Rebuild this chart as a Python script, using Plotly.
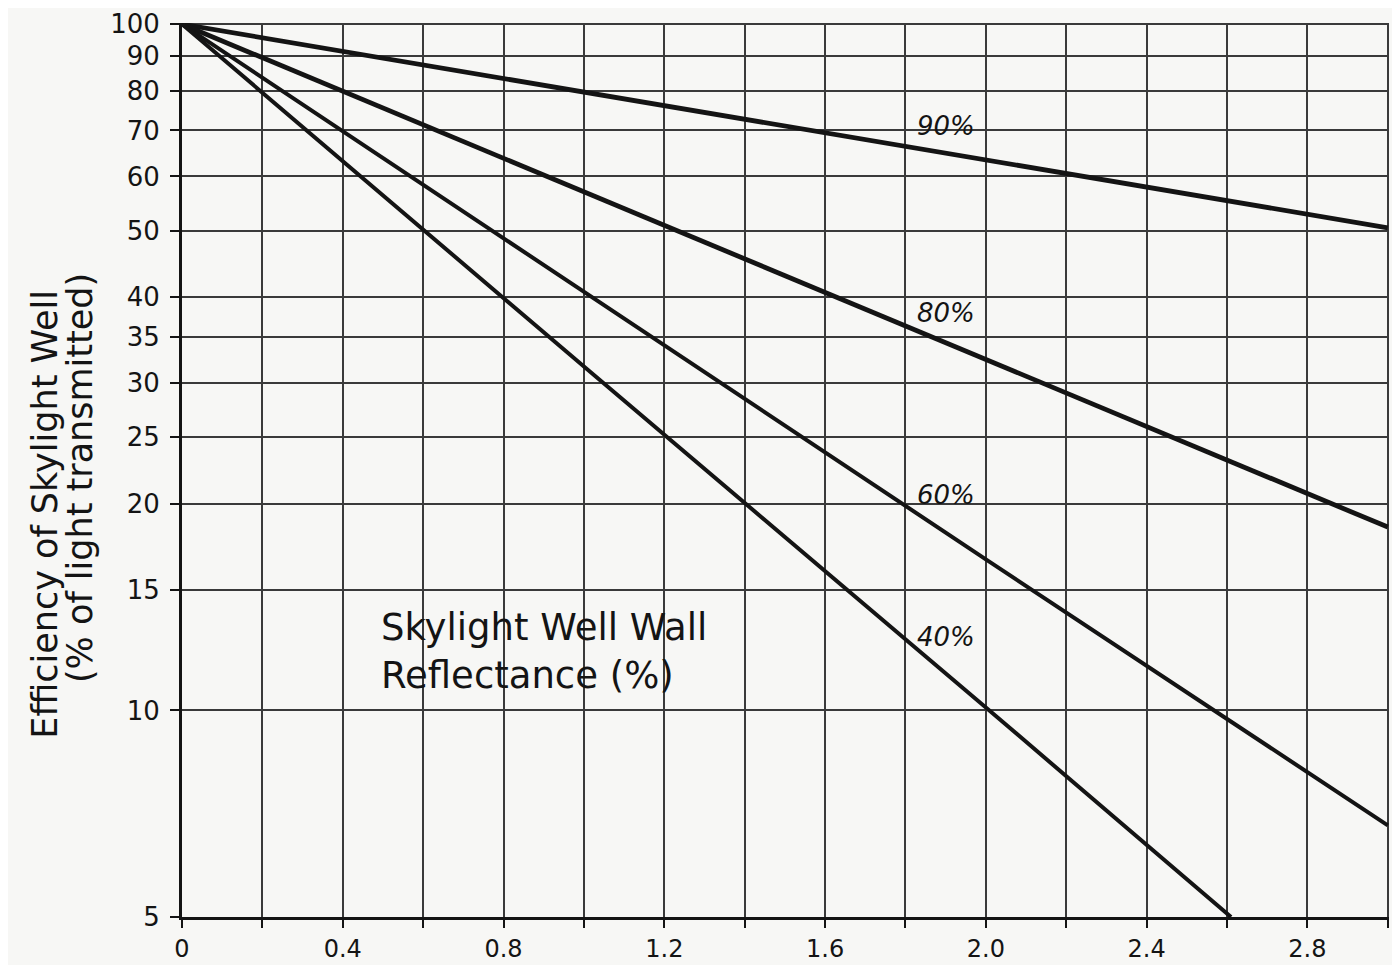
import plotly.graph_objects as go
import math

# ---- data ----
series_names = ["90%", "80%", "60%", "40%"]
x_90 = [0, 1.0, 2.0, 3.0]
y_90 = [100, 79.6, 63.3, 50.5]
x_80 = [0, 1.0, 2.0, 3.0]
y_80 = [100, 56.9, 32.4, 18.5]
x_60 = [0, 1.0, 2.0, 3.0]
y_60 = [100, 40.7, 16.6, 6.8]
x_40 = [0, 1.0, 2.0, 2.61]
y_40 = [100, 31.7, 10.1, 5.0]

y_ticks = [100, 90, 80, 70, 60, 50, 40, 35, 30, 25, 20, 15, 10, 5]
x_grid = [0, 0.2, 0.4, 0.6, 0.8, 1.0, 1.2, 1.4, 1.6, 1.8, 2.0, 2.2, 2.4, 2.6, 2.8, 3.0]
x_labels = ["0", "", "0.4", "", "0.8", "", "1.2", "", "1.6", "", "2.0", "", "2.4", "", "2.8", ""]

# label positions for curve names
label_x = [1.9, 1.9, 1.9, 1.9]
label_y = [71.0, 37.9, 20.6, 12.8]

FONT = "DejaVu Sans"
INK = "#141414"

fig = go.Figure()
widths = [4.8, 4.8, 4.0, 4.0]
for xs, ys, w, nm in zip([x_90, x_80, x_60, x_40], [y_90, y_80, y_60, y_40], widths, series_names):
    fig.add_trace(go.Scatter(x=xs, y=ys, mode="lines", name=nm,
                             line=dict(color=INK, width=w), showlegend=False))

annotations = []
for nm, lx, ly in zip(series_names, label_x, label_y):
    annotations.append(dict(x=lx, y=math.log10(ly), xref="x", yref="y", text="<i>" + nm + "</i>",
                            showarrow=False, font=dict(family=FONT, size=26, color=INK),
                            xanchor="center", yanchor="middle"))

annotations.append(dict(x=0.49, y=math.log10(12.2), xref="x", yref="y",
                        text="Skylight Well Wall<br>Reflectance (%)", align="left",
                        showarrow=False, font=dict(family=FONT, size=37, color=INK),
                        xanchor="left", yanchor="middle"))

annotations.append(dict(x=-0.1135, y=0.45, xref="paper", yref="paper",
                        text="Efficiency of Skylight Well", textangle=-90,
                        showarrow=False, font=dict(family=FONT, size=35, color=INK),
                        xanchor="center", yanchor="middle"))
annotations.append(dict(x=-0.0845, y=0.491, xref="paper", yref="paper",
                        text="(% of light transmitted)", textangle=-90,
                        showarrow=False, font=dict(family=FONT, size=35, color=INK),
                        xanchor="center", yanchor="middle"))

fig.update_layout(
    width=1392, height=957,
    margin=dict(l=174, r=11, t=15, b=48, autoexpand=False),
    paper_bgcolor="#f7f7f5", plot_bgcolor="#f7f7f5",
    font=dict(family=FONT, color=INK),
    annotations=annotations,
    xaxis=dict(range=[0, 3.003], tickmode="array", tickvals=x_grid, ticktext=x_labels,
               showgrid=True, gridcolor="#3a3a3a", gridwidth=1.6,
               showline=True, linecolor=INK, linewidth=3, automargin=False,
               ticks="outside", ticklen=8, tickwidth=1.6, tickcolor=INK,
               tickfont=dict(family=FONT, size=24, color=INK), ticklabelstandoff=0,
               zeroline=False),
    yaxis=dict(type="log", range=[math.log10(5), math.log10(100.4)], tickmode="array",
               tickvals=y_ticks, ticktext=[str(v) for v in y_ticks],
               showgrid=True, gridcolor="#3a3a3a", gridwidth=1.6,
               showline=True, linecolor=INK, linewidth=3, automargin=False,
               ticks="outside", ticklen=9, tickwidth=1.6, tickcolor=INK,
               tickfont=dict(family=FONT, size=26, color=INK), ticklabelstandoff=5,
               zeroline=False),
)

fig.write_html("out.html")
